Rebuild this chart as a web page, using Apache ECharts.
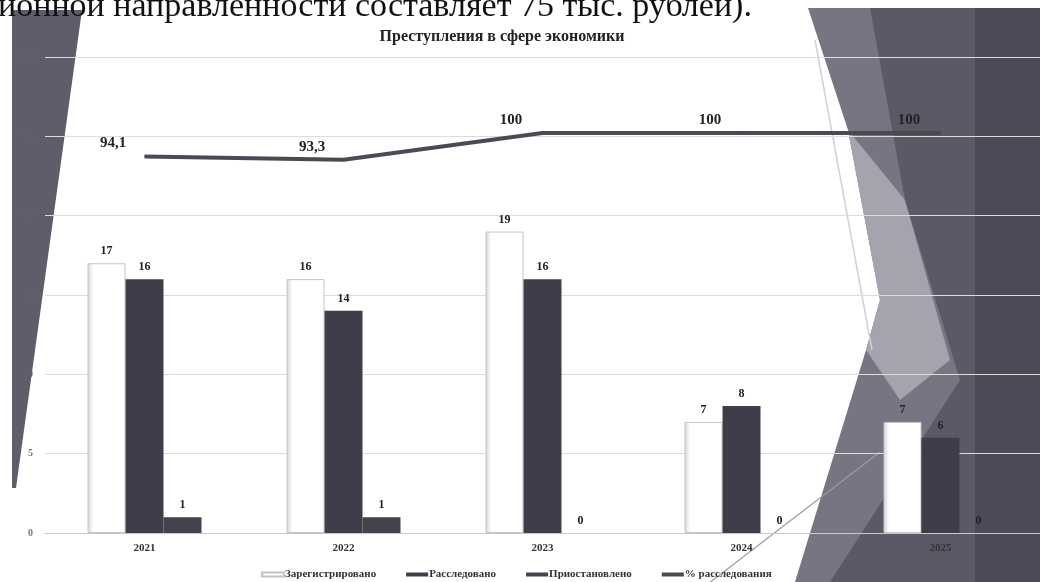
<!DOCTYPE html>
<html>
<head>
<meta charset="utf-8">
<script src="https://cdn.jsdelivr.net/npm/echarts@6/dist/echarts.min.js"></script>
<style>html,body{margin:0;padding:0;background:#fff}#c{width:1040px;height:582px}</style>
</head>
<body>
<div id="c"></div>
<script>
const categories = ['2021', '2022', '2023', '2024', '2025'];
const registered = [17, 16, 19, 7, 7];
const investigated = [16, 14, 16, 8, 6];
const suspended = [1, 1, 0, 0, 0];
const percentInvestigated = [94.1, 93.3, 100, 100, 100];
const yTicks = [0, 5, 10, 15, 20, 25, 30];
const seriesNames = ['Зарегистрировано', 'Расследовано', 'Приостановлено', '% расследования'];
const titleText = 'Преступления в сфере экономики';
const headerText = 'ионной направленности составляет 75 тыс. рублей).';

const serif = '"Liberation Serif", "DejaVu Serif", serif';
const chart = echarts.init(document.getElementById('c'), null, {renderer: 'canvas'});

const barLabel = {show: true, position: 'top', distance: 6, color: '#222', fontFamily: serif, fontWeight: 'bold', fontSize: 12};

chart.setOption({
  backgroundColor: '#fff',
  animation: false,
  title: {
    text: titleText, left: 497, top: 24, textAlign: 'center',
    textStyle: {fontFamily: serif, fontWeight: 'bold', fontSize: 16, color: '#222'}
  },
  legend: {
    data: seriesNames.map(n => ({name: n, icon: 'rect'})),
    left: 256, top: 564, itemWidth: 22, itemHeight: 4, itemGap: 30,
    textStyle: {fontFamily: serif, fontWeight: 'bold', fontSize: 11, color: '#333', padding: [0, 0, 0, -4]}
  },
  grid: {left: 45, top: 57, width: 998, height: 476, containLabel: false},
  xAxis: {
    type: 'category', data: categories,
    axisLine: {show: true, lineStyle: {color: '#c8c8c8', width: 1}},
    axisTick: {show: false},
    axisLabel: {fontFamily: serif, fontWeight: 'bold', fontSize: 11, color: '#333', margin: 10}
  },
  yAxis: [{
    type: 'value', min: yTicks[0], max: yTicks[yTicks.length - 1], interval: 5,
    axisLine: {show: false}, axisTick: {show: false},
    axisLabel: {
      margin: 12,
      formatter: v => (v <= 5 ? '{a|' + v + '}' : '{b|' + v + '}'),
      rich: {
        a: {fontFamily: serif, fontWeight: 'bold', fontSize: 10, color: '#777'},
        b: {fontFamily: serif, fontWeight: 'bold', fontSize: 10, color: '#62626e'}
      }
    },
    splitLine: {lineStyle: {color: '#dcdcdc', width: 1}}
  }, {
    type: 'value', min: 0, max: 119, show: false, splitLine: {show: false}
  }],
  graphic: [
    {type: 'text', z: 100, left: -2, top: -10, style: {text: headerText, fontFamily: serif, fontSize: 34, fill: '#111'}},
    {type: 'polygon', z: -10, shape: {points: [[12, 10], [82, 10], [16, 488], [12, 488]]}, style: {fill: '#5e5e6a'}},
    {type: 'polygon', z: -10, shape: {points: [[808, 8], [1040, 8], [1040, 582], [795, 582], [866, 350], [880, 300], [848, 130]]}, style: {fill: '#767682'}},
    {type: 'polygon', z: -9, shape: {points: [[848, 130], [880, 300], [866, 350], [900, 400], [950, 360], [905, 200]]}, style: {fill: '#a4a4ae'}},
    {type: 'polygon', z: -9, shape: {points: [[900, 8], [1040, 8], [1040, 582], [830, 582], [960, 380], [905, 200], [870, 8]]}, style: {fill: '#5a5a66'}},
    {type: 'polygon', z: -8, shape: {points: [[975, 8], [1040, 8], [1040, 582], [975, 582]]}, style: {fill: '#4c4c58'}},
    {type: 'line', z: -7, shape: {x1: 815, y1: 40, x2: 872, y2: 350}, style: {stroke: '#d0d0d8', lineWidth: 1.5}},
    {type: 'line', z: -7, shape: {x1: 700, y1: 590, x2: 880, y2: 452}, style: {stroke: '#9a9aa4', lineWidth: 1.2}}
  ],
  series: [
    {
      name: seriesNames[0], type: 'bar', data: registered, barWidth: 38, barGap: '0%',
      itemStyle: {
        color: new echarts.graphic.LinearGradient(0, 0, 1, 0, [
          {offset: 0, color: '#d4d4d8'}, {offset: 0.15, color: '#ffffff'}, {offset: 1, color: '#ffffff'}
        ]),
        borderColor: '#c4c4c8', borderWidth: 1
      },
      label: barLabel
    },
    {
      name: seriesNames[1], type: 'bar', data: investigated, barWidth: 38, barGap: '0%',
      itemStyle: {color: '#3e3e4a'},
      label: barLabel
    },
    {
      name: seriesNames[2], type: 'bar', data: suspended, barWidth: 38, barGap: '0%',
      itemStyle: {color: '#43434e'},
      label: barLabel
    },
    {
      name: seriesNames[3], type: 'line', yAxisIndex: 1, data: percentInvestigated,
      symbol: 'circle', symbolSize: 1, showSymbol: true,
      lineStyle: {color: '#4a4a54', width: 4},
      itemStyle: {color: '#4a4a54'},
      label: {
        show: true, position: [-31, -5], align: 'center', verticalAlign: 'bottom',
        color: '#222', fontFamily: serif, fontWeight: 'bold', fontSize: 15,
        formatter: p => String(p.value).replace('.', ',')
      },
      labelLayout: {hideOverlap: false},
      z: 5
    }
  ]
});
</script>
</body>
</html>
